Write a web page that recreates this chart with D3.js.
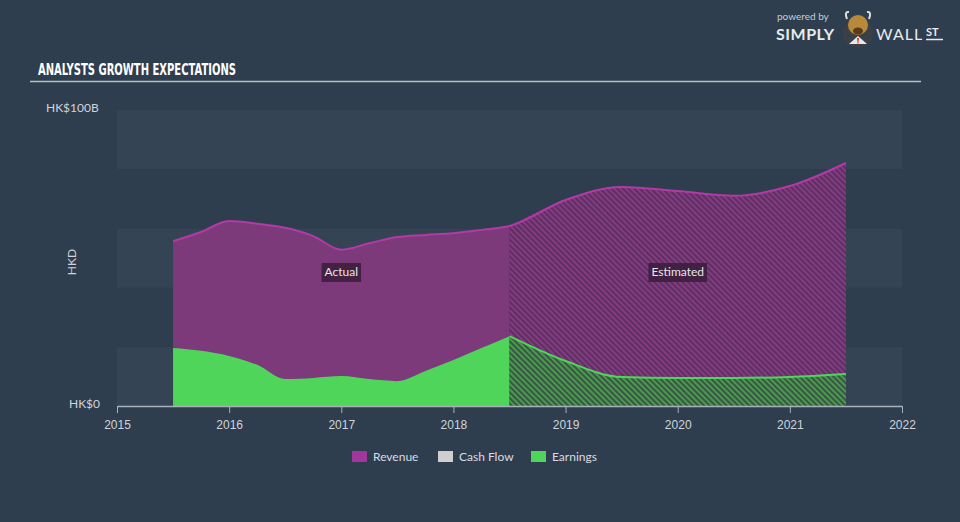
<!DOCTYPE html>
<html lang="en">
<head>
    <meta charset="UTF-8">
    <title>analysts growth expectations</title>
    <script src="https://cdn.jsdelivr.net/npm/d3@7/dist/d3.min.js"></script>
    <style>
        body { margin: 0; background: #2f3e4e; }
        svg { display: block; font-family: Lato, "Open Sans", sans-serif; }
        .title { font-family: "DejaVu Sans", sans-serif; font-weight: bold; font-size: 16px; fill: #fff; }
        .axis text { fill: #d0d4d9; font-size: 12px; }
        .axis line, .axis path { stroke: #a8b0ba; }
        .legend text { fill: #d8dce0; font-size: 12px; }
        .tag text { fill: #e6e6e6; font-size: 12px; }
    </style>
</head>
<body>
<svg width="960" height="522"></svg>
<script>
    // data (HK$ billions)
    var revenueActual = [
        [2015.5, 55.7], [2015.75, 58.8], [2016.0, 62.5], [2016.25, 61.6], [2016.5, 60.2],
        [2016.75, 57.4], [2017.0, 52.8], [2017.25, 55.0], [2017.5, 57.1], [2017.75, 57.8],
        [2018.0, 58.4], [2018.25, 59.5], [2018.5, 60.8]
    ];
    var revenueEstimated = [
        [2018.5, 60.8], [2019.0, 69.6], [2019.5, 74.0], [2020.0, 72.6], [2020.5, 71.0],
        [2021.0, 74.3], [2021.5, 82.1]
    ];
    var earningsActual = [
        [2015.5, 19.6], [2016.0, 16.9], [2016.25, 13.9], [2016.5, 9.1], [2016.75, 9.5],
        [2017.0, 10.1], [2017.25, 9.1], [2017.5, 8.4], [2017.75, 11.8], [2018.0, 15.5],
        [2018.25, 19.6], [2018.5, 23.6]
    ];
    var earningsEstimated = [
        [2018.5, 23.6], [2019.0, 15.2], [2019.5, 9.8], [2020.0, 9.5], [2020.5, 9.5],
        [2021.0, 9.8], [2021.5, 10.8]
    ];
    var years = [2015, 2016, 2017, 2018, 2019, 2020, 2021, 2022];
    var legendItems = ['Revenue', 'Cash Flow', 'Earnings'];
    var legendColors = ['#a2379b', '#cfcfcf', '#4fd65a'];

    var svg = d3.select('svg');
    var plotLeft = 117, plotRight = 902, plotTop = 110, plotBottom = 406;

    var x = d3.scaleLinear().domain([2015, 2022]).range([plotLeft, plotRight]);
    var y = d3.scaleLinear().domain([0, 100]).range([plotBottom, plotTop]);

    // hatch patterns for the estimate part
    var defs = svg.append('defs');
    function hatch(id, bg, fg) {
        var p = defs.append('pattern')
            .attr('id', id)
            .attr('patternUnits', 'userSpaceOnUse')
            .attr('width', 4).attr('height', 4)
            .attr('patternTransform', 'rotate(-45)');
        p.append('rect').attr('width', 4).attr('height', 4).attr('fill', bg);
        p.append('rect').attr('width', 2).attr('height', 4).attr('fill', fg);
    }
    hatch('hatch-rev', '#5f2f63', '#823c80');
    hatch('hatch-earn', '#3b5548', '#4a9a4c');

    // background bands
    d3.range(0, 100, 20).forEach(function(v, i) {
        svg.append('rect')
            .attr('x', plotLeft).attr('width', plotRight - plotLeft)
            .attr('y', y(v + 20)).attr('height', y(v) - y(v + 20))
            .attr('fill', i % 2 === 0 ? '#344454' : '#2f3e4e');
    });

    // title
    svg.append('text').attr('class', 'title').attr('x', 38).attr('y', 75)
        .attr('textLength', 198).attr('lengthAdjust', 'spacingAndGlyphs')
        .text('ANALYSTS GROWTH EXPECTATIONS');
    svg.append('line').attr('x1', 30).attr('x2', 921).attr('y1', 81.5).attr('y2', 81.5)
        .attr('stroke', '#b8bec6').attr('stroke-width', 1.5);

    // logo
    var logo = svg.append('g');
    logo.append('text').attr('x', 777).attr('y', 20).attr('fill', '#c8ccd0')
        .attr('font-size', 10).text('powered by');
    logo.append('text').attr('x', 776).attr('y', 40).attr('fill', '#e8eaec')
        .attr('font-size', 16).attr('font-weight', 'bold').attr('letter-spacing', 0.5).text('SIMPLY');
    logo.append('circle').attr('cx', 858).attr('cy', 33).attr('r', 15).attr('fill', '#3b4048');
    logo.append('path').attr('d', 'M849,44 L858,36 L867,44 Z').attr('fill', '#e8e8e8');
    logo.append('ellipse').attr('cx', 858).attr('cy', 25).attr('rx', 10).attr('ry', 10).attr('fill', '#b8893a');
    logo.append('ellipse').attr('cx', 858).attr('cy', 31).attr('rx', 5).attr('ry', 3.5).attr('fill', '#5a3a1a');
    logo.append('path').attr('d', 'M847,19 Q844,11 849,12 M869,19 Q872,11 867,12')
        .attr('stroke', '#ddd').attr('stroke-width', 2).attr('fill', 'none');
    logo.append('path').attr('d', 'M857,38 L859,38 L858,46 Z').attr('fill', '#d03a2a');
    logo.append('text').attr('x', 876).attr('y', 40).attr('fill', '#e8eaec')
        .attr('font-size', 16).attr('letter-spacing', 1).text('WALL');
    logo.append('text').attr('x', 926).attr('y', 36).attr('fill', '#e8eaec')
        .attr('font-size', 11).attr('font-weight', 'bold').text('ST');
    logo.append('line').attr('x1', 926).attr('x2', 943).attr('y1', 39.5).attr('y2', 39.5)
        .attr('stroke', '#e8eaec').attr('stroke-width', 1.5);

    var area = d3.area().curve(d3.curveMonotoneX)
        .x(function(d) { return x(d[0]); })
        .y0(y(0))
        .y1(function(d) { return y(d[1]); });
    var line = d3.line().curve(d3.curveMonotoneX)
        .x(function(d) { return x(d[0]); })
        .y(function(d) { return y(d[1]); });

    // revenue
    svg.append('path').datum(revenueActual).attr('d', area).attr('fill', '#7d3a7b');
    svg.append('path').datum(revenueEstimated).attr('d', area).attr('fill', 'url(#hatch-rev)');
    svg.append('path').datum(revenueActual.concat(revenueEstimated.slice(1)))
        .attr('d', line).attr('fill', 'none').attr('stroke', '#b23aa5').attr('stroke-width', 2);

    // earnings
    svg.append('path').datum(earningsActual).attr('d', area).attr('fill', '#4fd65a');
    svg.append('path').datum(earningsEstimated).attr('d', area).attr('fill', 'url(#hatch-earn)');
    svg.append('path').datum(earningsEstimated)
        .attr('d', line).attr('fill', 'none').attr('stroke', '#4fd65a').attr('stroke-width', 2);

    // actual / estimated tags
    function tag(label, cx) {
        var g = svg.append('g').attr('class', 'tag');
        var t = g.append('text').attr('x', cx).attr('y', 276).attr('text-anchor', 'middle').text(label);
        var b = t.node().getBBox();
        g.insert('rect', 'text').attr('x', b.x - 3).attr('y', 263).attr('width', b.width + 6).attr('height', 19)
            .attr('fill', '#3a1d3a').attr('fill-opacity', 0.85);
    }
    tag('Actual', x(2017));
    tag('Estimated', x(2020));

    // x axis
    var xAxis = svg.append('g').attr('class', 'axis').attr('transform', 'translate(0,' + plotBottom + ')')
        .call(d3.axisBottom(x).tickValues(years).tickFormat(d3.format('d')).tickSize(7).tickSizeOuter(0));
    xAxis.select('.domain').attr('stroke-width', 1.5);
    xAxis.selectAll('text').attr('dy', '1.1em');

    // y labels
    svg.append('text').attr('x', 46).attr('y', 112)
        .attr('fill', '#d0d4d9').attr('font-size', 12).text('HK$100B');
    svg.append('text').attr('x', 69).attr('y', 408)
        .attr('fill', '#d0d4d9').attr('font-size', 12).text('HK$0');
    svg.append('text').attr('transform', 'translate(76,262) rotate(-90)').attr('text-anchor', 'middle')
        .attr('fill', '#d0d4d9').attr('font-size', 12).text('HKD');

    // legend
    var lx = [352, 438, 531];
    var legend = svg.append('g').attr('class', 'legend');
    legendItems.forEach(function(name, i) {
        legend.append('rect').attr('x', lx[i]).attr('y', 451).attr('width', 15).attr('height', 11)
            .attr('fill', legendColors[i]);
        legend.append('text').attr('x', lx[i] + 21).attr('y', 461).text(name);
    });
</script>
</body>
</html>
